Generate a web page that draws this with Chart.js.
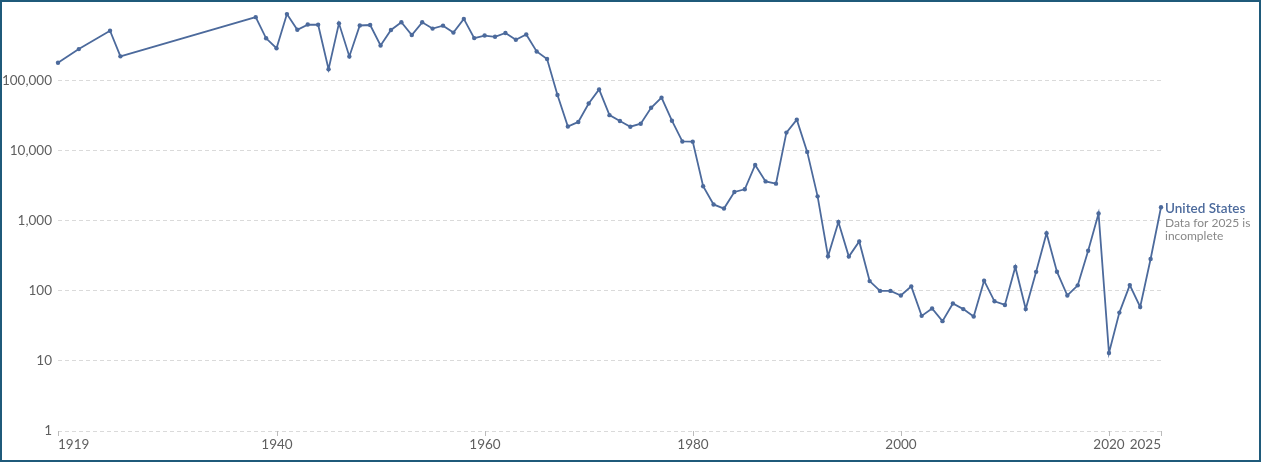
<!DOCTYPE html>
<html>
<head>
<meta charset="utf-8">
<script src="https://cdn.jsdelivr.net/npm/chart.js@4.4.1/dist/chart.umd.min.js"></script>
<style>
  html, body { margin: 0; padding: 0; background: #fff; }
  #wrap { position: relative; width: 1261px; height: 462px; overflow: hidden; }
  #c { position: absolute; left: 0; top: 0; }
  #frame { position: absolute; left: 0; top: 0; width: 1261px; height: 462px; box-sizing: border-box;
           border: 2px solid #1f5a7a; pointer-events: none; }
</style>
</head>
<body>
<div id="wrap">
  <canvas id="c" width="1261" height="462"></canvas>
  <div id="frame"></div>
</div>
<script>
// ---- Data (reported measles cases, United States) ----
const years = [1919, 1921, 1924, 1925,
  1938, 1939, 1940, 1941, 1942, 1943, 1944, 1945, 1946, 1947, 1948, 1949,
  1950, 1951, 1952, 1953, 1954, 1955, 1956, 1957, 1958, 1959,
  1960, 1961, 1962, 1963, 1964, 1965, 1966, 1967, 1968, 1969,
  1970, 1971, 1972, 1973, 1974, 1975, 1976, 1977, 1978, 1979,
  1980, 1981, 1982, 1983, 1984, 1985, 1986, 1987, 1988, 1989,
  1990, 1991, 1992, 1993, 1994, 1995, 1996, 1997, 1998, 1999,
  2000, 2001, 2002, 2003, 2004, 2005, 2006, 2007, 2008, 2009,
  2010, 2011, 2012, 2013, 2014, 2015, 2016, 2017, 2018, 2019,
  2020, 2021, 2022, 2023, 2024, 2025];
const cases = [181000, 283000, 518000, 223000,
  808908, 403317, 291162, 894134, 534120, 633678, 630000, 146013, 659843, 222375, 615104, 624455,
  319124, 530118, 683077, 449146, 682720, 555156, 611936, 486799, 763094, 406162,
  441703, 423919, 481530, 385156, 458083, 261904, 204136, 62705, 22231, 25826,
  47351, 75290, 32275, 26690, 22094, 24374, 41126, 57345, 26871, 13597,
  13506, 3124, 1714, 1497, 2587, 2822, 6282, 3655, 3396, 18193,
  27786, 9643, 2237, 312, 963, 309, 508, 138, 100, 100,
  86, 116, 44, 56, 37, 66, 55, 43, 140, 71,
  63, 220, 55, 187, 667, 188, 86, 120, 375, 1274,
  13, 49, 121, 59, 285, 1563];
const yTicks = [1, 10, 100, 1000, 10000, 100000];
const xTicks = [1919, 1940, 1960, 1980, 2000, 2020, 2025];
const seriesName = "United States";
const noteLines = ["Data for 2025 is", "incomplete"];

const LINE = '#4c6a9c';
const FONT = 'Lato, "DejaVu Sans", sans-serif';

const xAxisPlugin = {
  id: 'xAxisLabels',
  afterDraw(chart) {
    const ctx = chart.ctx;
    const xs = chart.scales.x;
    const bottom = chart.chartArea.bottom;
    ctx.save();
    ctx.strokeStyle = '#bbbbbb';
    ctx.lineWidth = 1;
    ctx.fillStyle = '#5f5f5f';
    ctx.font = '13.5px ' + FONT;
    ctx.textBaseline = 'middle';
    xTicks.forEach((yr, i) => {
      const px = Math.round(xs.getPixelForValue(yr)) + 0.5;
      ctx.beginPath();
      ctx.moveTo(px, bottom);
      ctx.lineTo(px, bottom + 5);
      ctx.stroke();
      ctx.textAlign = i === 0 ? 'left' : (i === xTicks.length - 1 ? 'right' : 'center');
      ctx.fillText(String(yr), px - 0.5, bottom + 14);
    });
    ctx.restore();
  }
};

const endLabelPlugin = {
  id: 'endLabel',
  afterDatasetsDraw(chart) {
    const meta = chart.getDatasetMeta(0);
    const pt = meta.data[meta.data.length - 1];
    const ctx = chart.ctx;
    ctx.save();
    ctx.textAlign = 'left';
    ctx.textBaseline = 'middle';
    ctx.fillStyle = LINE;
    ctx.font = '600 13.5px ' + FONT;
    ctx.fillText(seriesName, pt.x + 4, pt.y + 1);
    ctx.fillStyle = '#888888';
    ctx.font = '12px ' + FONT;
    noteLines.forEach((t, i) => ctx.fillText(t, pt.x + 4, pt.y + 16 + i * 13));
    ctx.restore();
  }
};

new Chart(document.getElementById('c'), {
  type: 'line',
  data: {
    datasets: [{
      label: seriesName,
      data: years.map((y, i) => ({ x: y, y: cases[i] })),
      borderColor: LINE,
      backgroundColor: LINE,
      borderWidth: 1.8,
      pointRadius: 2.2,
      pointBorderWidth: 0,
      pointHoverRadius: 2.2,
      tension: 0,
      clip: false
    }]
  },
  options: {
    responsive: false,
    animation: false,
    events: [],
    layout: { padding: { left: 0, right: 100, top: 12, bottom: 0 } },
    plugins: { legend: { display: false }, tooltip: { enabled: false }, title: { display: false } },
    scales: {
      x: {
        type: 'linear',
        min: 1919,
        max: 2025,
        grid: { display: false },
        border: { display: false },
        ticks: { display: false },
        afterFit(scale) { scale.height = 31; }
      },
      y: {
        type: 'logarithmic',
        min: 1,
        max: 894134,
        afterBuildTicks(scale) { scale.ticks = yTicks.map(v => ({ value: v })); },
        afterFit(scale) { scale.width = 58; },
        grid: { color: '#dadada', lineWidth: 1, drawTicks: false },
        border: { display: false, dash: [4, 3] },
        ticks: {
          color: '#5f5f5f',
          font: { family: FONT, size: 13.5 },
          padding: 6,
          autoSkip: false,
          callback: (v) => Number(v).toLocaleString('en-US')
        }
      }
    }
  },
  plugins: [xAxisPlugin, endLabelPlugin]
});
</script>
</body>
</html>
